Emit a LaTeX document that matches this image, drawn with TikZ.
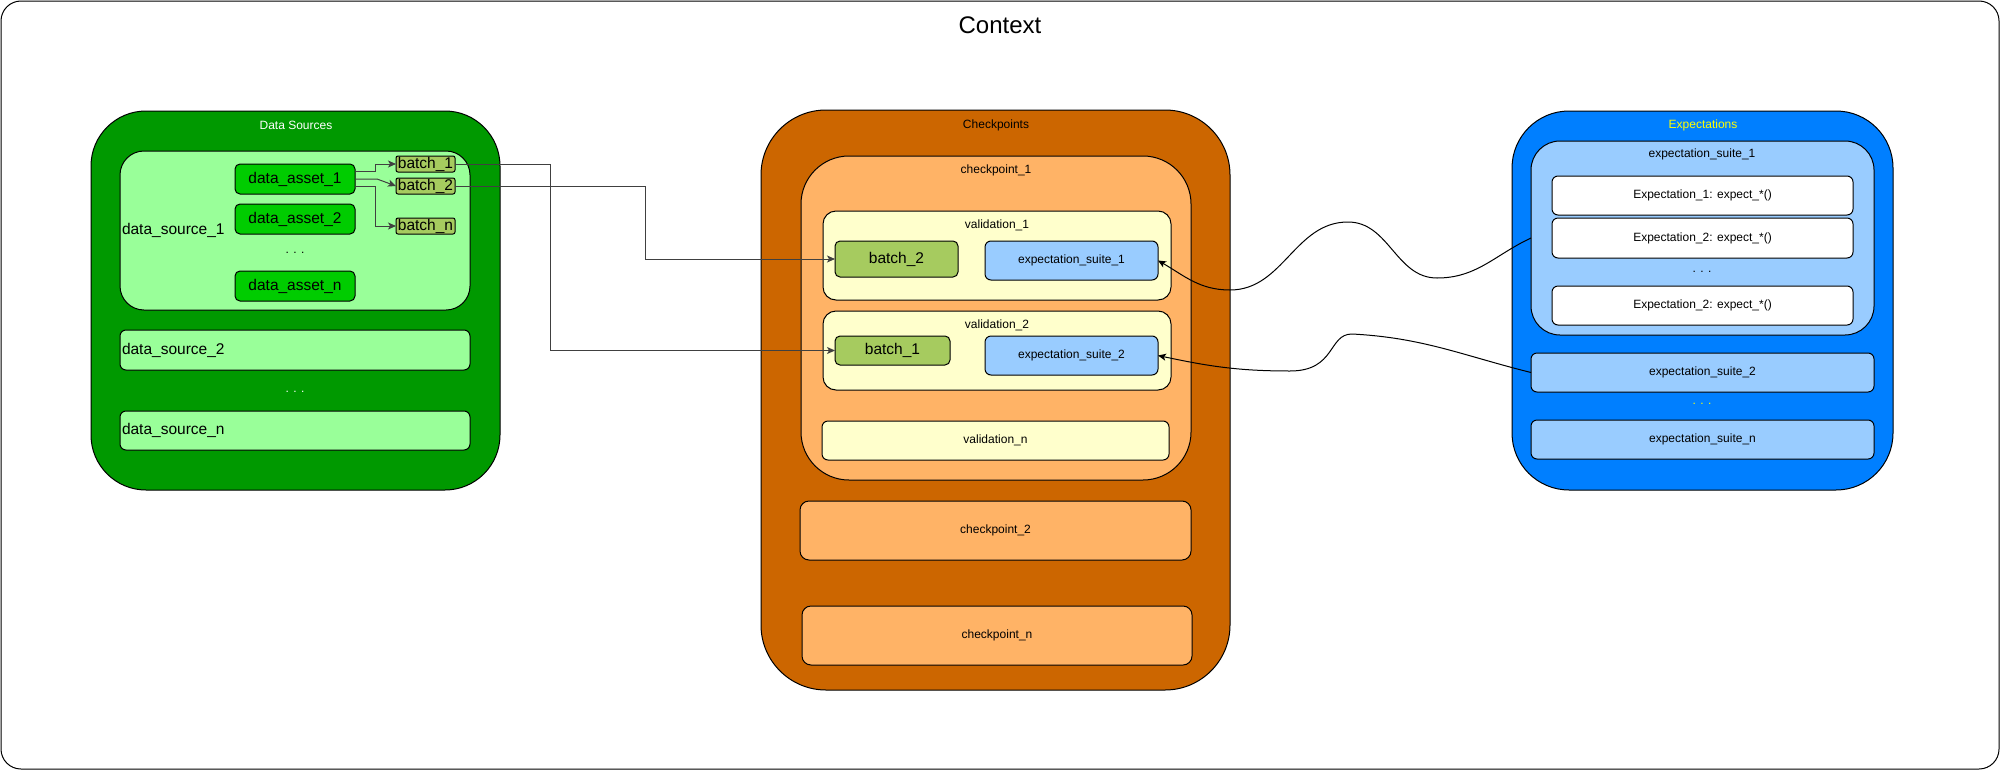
\documentclass[tikz,border=0pt]{standalone}
\usepackage{fontspec}
\setmainfont{Liberation Sans}
\usetikzlibrary{arrows.meta}
\definecolor{dsgreen}{HTML}{009900}
\definecolor{srcgreen}{HTML}{99FF99}
\definecolor{assetgreen}{HTML}{00CC00}
\definecolor{batchgreen}{HTML}{A6CB5F}
\definecolor{cporange}{HTML}{CC6600}
\definecolor{cplight}{HTML}{FFB366}
\definecolor{valyellow}{HTML}{FFFFCC}
\definecolor{suiteblue}{HTML}{99CCFF}
\definecolor{expblue}{HTML}{007FFF}
\definecolor{titleyellow}{HTML}{FFFF00}
\newcommand{\fsS}{\fontsize{12}{14}\selectfont}
\newcommand{\fsM}{\fontsize{15.5}{18}\selectfont}
\newcommand{\fsL}{\fontsize{24}{28}\selectfont}
\tikzset{
  box/.style={draw=black, line width=1pt, inner sep=0pt, outer sep=0pt, anchor=north west, font=\fsS},
  lbl/.style={inner sep=0pt, outer sep=0pt, font=\fsS},
  conn/.style={draw=black, line width=1pt, -{Stealth[length=8pt,width=7pt,inset=2pt]}},
  ortho/.style={conn, draw=black!75},
}
\begin{document}
\begin{tikzpicture}[x=1pt,y=-1pt]
\useasboundingbox (0,0) rectangle (2001,771);
% Context
\node[box, rounded corners=20, minimum width=1998, minimum height=768] (ctx) at (1,1) {};
\node[lbl, font=\fsL] (ctxt) at (1000,25) {Context};

% ---------------- Data Sources
\node[box, fill=dsgreen, rounded corners=55, minimum width=409, minimum height=379] (ds) at (91,111) {};
\node[lbl, text=white] (dst) at (296,125) {Data Sources};
\node[box, fill=srcgreen, rounded corners=24, minimum width=350, minimum height=159] (ds1) at (120,151) {};
\node[lbl, font=\fsM, anchor=west] (ds1t) at (122,230) {data\_source\_1};
\node[box, fill=assetgreen, rounded corners=5, minimum width=120, minimum height=30, font=\fsM] (da1) at (235,164) {data\_asset\_1};
\node[box, fill=assetgreen, rounded corners=5, minimum width=120, minimum height=30, font=\fsM] (da2) at (235,204) {data\_asset\_2};
\node[lbl] (dadots) at (295,253) {. . .};
\node[box, fill=assetgreen, rounded corners=5, minimum width=120, minimum height=30, font=\fsM] (dan) at (235,271) {data\_asset\_n};
\node[box, fill=batchgreen, rounded corners=2, minimum width=59, minimum height=16, font=\fsM] (b1) at (396,156) {batch\_1};
\node[box, fill=batchgreen, rounded corners=2, minimum width=59, minimum height=16, font=\fsM] (b2) at (396,178) {batch\_2};
\node[box, fill=batchgreen, rounded corners=2, minimum width=59, minimum height=16, font=\fsM] (bn) at (396,218) {batch\_n};
\node[box, fill=srcgreen, rounded corners=6, minimum width=350, minimum height=40] (ds2) at (120,330) {};
\node[lbl, font=\fsM, anchor=west] (ds2t) at (122,350) {data\_source\_2};
\node[lbl, text=white] (dsdots) at (295,392) {. . .};
\node[box, fill=srcgreen, rounded corners=6, minimum width=350, minimum height=39] (dsn) at (120,411) {};
\node[lbl, font=\fsM, anchor=west] (dsnt) at (122,430) {data\_source\_n};

% ---------------- Checkpoints
\node[box, fill=cporange, rounded corners=65, minimum width=469, minimum height=580] (cp) at (761,110) {};
\node[lbl] (cpt) at (996,125) {Checkpoints};
\node[box, fill=cplight, rounded corners=48, minimum width=390, minimum height=324] (cp1) at (801,156) {};
\node[lbl] (cp1t) at (996,170) {checkpoint\_1};
\node[box, fill=valyellow, rounded corners=13, minimum width=348, minimum height=89] (v1) at (823,211) {};
\node[lbl] (v1t) at (997,225) {validation\_1};
\node[box, fill=batchgreen, rounded corners=5, minimum width=123, minimum height=36, font=\fsM] (vb2) at (835,241) {batch\_2};
\node[box, fill=suiteblue, rounded corners=6, minimum width=173, minimum height=39] (ves1) at (985,241) {expectation\_suite\_1};
\node[box, fill=valyellow, rounded corners=13, minimum width=348, minimum height=79] (v2) at (823,311) {};
\node[lbl] (v2t) at (997,325) {validation\_2};
\node[box, fill=batchgreen, rounded corners=5, minimum width=115, minimum height=29, font=\fsM] (vb1) at (835,336) {batch\_1};
\node[box, fill=suiteblue, rounded corners=6, minimum width=173, minimum height=39] (ves2) at (985,336) {expectation\_suite\_2};
\node[box, fill=valyellow, rounded corners=6, minimum width=347, minimum height=39] (vn) at (822,421) {validation\_n};
\node[box, fill=cplight, rounded corners=9, minimum width=391, minimum height=59] (cp2) at (800,501) {checkpoint\_2};
\node[box, fill=cplight, rounded corners=9, minimum width=390, minimum height=59] (cpn) at (802,606) {checkpoint\_n};

% ---------------- Expectations
\node[box, fill=expblue, rounded corners=57, minimum width=381, minimum height=379] (ex) at (1512,111) {};
\node[lbl, text=titleyellow] (ext) at (1703,125) {Expectations};
\node[box, fill=suiteblue, rounded corners=29, minimum width=343, minimum height=194] (es1) at (1531,141) {};
\node[lbl] (es1t) at (1702,154) {expectation\_suite\_1};
\node[box, fill=white, rounded corners=6, minimum width=301, minimum height=39] (e1) at (1552,176) {Expectation\_1: expect\_*()};
\node[box, fill=white, rounded corners=6, minimum width=301, minimum height=40] (e2) at (1552,218) {Expectation\_2: expect\_*()};
\node[lbl] (edots) at (1702,272) {. . .};
\node[box, fill=white, rounded corners=6, minimum width=301, minimum height=39] (e3) at (1552,286) {Expectation\_2: expect\_*()};
\node[box, fill=suiteblue, rounded corners=6, minimum width=343, minimum height=39] (es2) at (1531,353) {expectation\_suite\_2};
\node[lbl, text=titleyellow] (esdots) at (1702,404) {. . .};
\node[box, fill=suiteblue, rounded corners=6, minimum width=343, minimum height=39] (esn) at (1531,420) {expectation\_suite\_n};

% ---------------- Connectors
\coordinate (j1) at (550,0);
\coordinate (j2) at (645,0);
\draw[ortho] ([yshift=7.5pt]da1.east) -- ++(20,0) |- (b1.west);
\draw[ortho] (da1.east) -- ++(22,0) -- (b2.west);
\draw[ortho] ([yshift=-7.5pt]da1.east) -- ++(20,0) |- (bn.west);
\draw[ortho] (b1.east) -- (b1.east -| j1) -- (j1 |- vb1.west) -- (vb1.west);
\draw[ortho] (b2.east) -- (b2.east -| j2) -- (j2 |- vb2.west) -- (vb2.west);

\coordinate (c1) at (1437,278);
\coordinate (c2) at (1348,222);
\coordinate (c3) at (1230,290);
\draw[conn] (es1.west) to[out=205,in=0] (c1) to[out=180,in=0] (c2) to[out=180,in=0] (c3) to[out=180,in=-30] (ves1.east);
\coordinate (d1) at (1352,334);
\coordinate (d2) at (1290,371);
\draw[conn] (es2.west) to[out=166,in=-3] (d1) .. controls (1328,334) and (1336,371) .. (d2) to[out=180,in=-12] (ves2.east);
\end{tikzpicture}
\end{document}
